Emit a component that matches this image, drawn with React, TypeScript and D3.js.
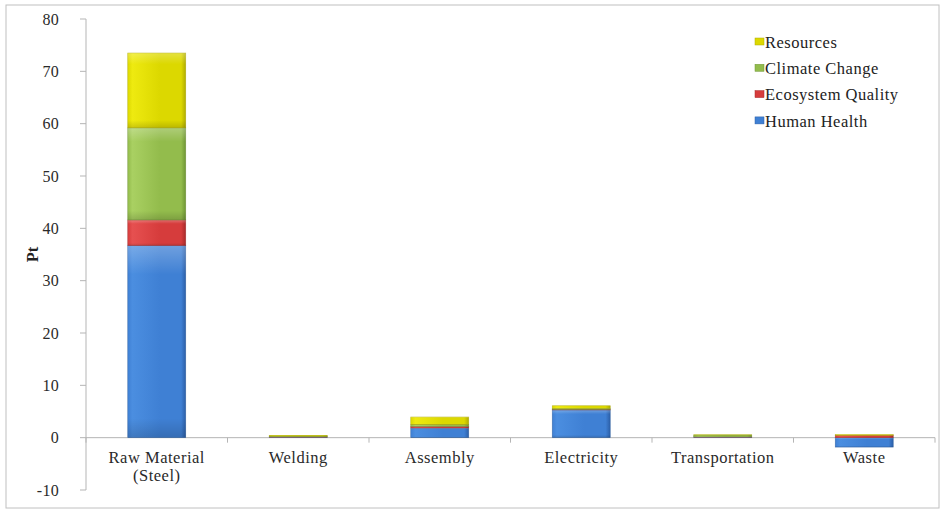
import React from "react";
import * as d3 from "d3";

const categories = ["Raw Material\n(Steel)", "Welding", "Assembly", "Electricity", "Transportation", "Waste"];
const seriesNames = ["Human Health", "Ecosystem Quality", "Climate Change", "Resources"];
const humanHealth = [36.7, 0.1, 1.85, 5.3, 0.1, -1.8];
const ecosystemQuality = [4.9, 0.05, 0.3, 0.1, 0.05, 0.45];
const climateChange = [17.6, 0.15, 0.35, 0.2, 0.35, 0.0];
const resources = [14.3, 0.15, 1.45, 0.5, 0.05, 0.15];
const yTicks = [-10, 0, 10, 20, 30, 40, 50, 60, 70, 80];

const W = 945;
const H = 510;
const FONT = "'Liberation Serif', 'Times New Roman', serif";

const colors = [
  { l: "#4b8ee0", m: "#3f80d4", d: "#2c5fa8", s: "#2a5a9a" },
  { l: "#e65050", m: "#d63c3c", d: "#a82a2a", s: "#9a2a2a" },
  { l: "#a9d062", m: "#93bc4c", d: "#6f9634", s: "#6a8a30" },
  { l: "#eeea10", m: "#dcd800", d: "#b0ac00", s: "#a8a400" },
];

export default function App() {
  const keys = seriesNames;
  const table = categories.map((c, i) => ({
    cat: c,
    "Human Health": humanHealth[i],
    "Ecosystem Quality": ecosystemQuality[i],
    "Climate Change": climateChange[i],
    Resources: resources[i],
  }));
  const stacked = d3.stack<any>().keys(keys).offset(d3.stackOffsetDiverging)(table);

  const x = d3.scaleBand<string>().domain(categories).range([86, 935]).paddingInner(0.59).paddingOuter(0.295);
  const y = d3.scaleLinear().domain([-10, 80]).range([490, 19]);
  const step = x.step();

  return (
    <svg width={W} height={H} style={{ position: "absolute", left: 0, top: 0, background: "#fff" }} fontFamily={FONT}>
      <defs>
        {colors.map((c, i) => (
          <linearGradient key={i} id={`g${i}`} x1="0" x2="1" y1="0" y2="0">
            <stop offset="0" stopColor={c.m} />
            <stop offset="0.08" stopColor={c.l} />
            <stop offset="0.55" stopColor={c.m} />
            <stop offset="0.92" stopColor={c.m} />
            <stop offset="1" stopColor={c.d} />
          </linearGradient>
        ))}
        <linearGradient id="gv" x1="0" x2="0" y1="0" y2="1">
          <stop offset="0" stopColor="#fff" stopOpacity="0.25" />
          <stop offset="0.15" stopColor="#fff" stopOpacity="0" />
          <stop offset="0.9" stopColor="#000" stopOpacity="0" />
          <stop offset="1" stopColor="#000" stopOpacity="0.15" />
        </linearGradient>
      </defs>
      <rect x={6} y={5} width={933} height={503} fill="#fff" stroke="#c0c0c0" strokeWidth={1} />

      {/* Y axis */}
      <line x1={86} x2={86} y1={y(80)} y2={y(-10)} stroke="#b5b5b5" strokeWidth={1} />
      {yTicks.map((t) => (
        <g key={t}>
          <line x1={80} x2={86} y1={y(t)} y2={y(t)} stroke="#b5b5b5" />
          <text x={59} y={y(t)} dy="0.35em" textAnchor="end" fontSize={16} fill="#2a2a2a" letterSpacing={0.3}>
            {t}
          </text>
        </g>
      ))}
      <text
        transform={`translate(38,${y(35)}) rotate(-90)`}
        textAnchor="middle"
        fontSize={16.5}
        fontWeight="bold"
        fill="#222"
      >
        Pt
      </text>

      {/* X axis */}
      <line x1={86} x2={935} y1={y(0)} y2={y(0)} stroke="#b5b5b5" />
      {d3.range(categories.length + 1).map((k) => (
        <line key={k} x1={86 + k * step} x2={86 + k * step} y1={y(0)} y2={y(0) + 5} stroke="#b5b5b5" />
      ))}
      {categories.map((c) => (
        <text key={c} x={(x(c) || 0) + x.bandwidth() / 2} y={463} textAnchor="middle" fontSize={16.5} fill="#2a2a2a" letterSpacing={0.5}>
          {c.split("\n").map((ln, j) => (
            <tspan key={j} x={(x(c) || 0) + x.bandwidth() / 2} dy={j === 0 ? 0 : 18}>
              {ln}
            </tspan>
          ))}
        </text>
      ))}

      {/* Bars */}
      {stacked.map((s, si) => (
        <g key={s.key}>
          {s.map((d, i) => {
            const y0 = y(d[0]);
            const y1 = y(d[1]);
            const top = Math.min(y0, y1);
            const h = Math.abs(y0 - y1);
            if (h < 0.01) return null;
            const bx = x(categories[i]) || 0;
            return (
              <g key={i}>
                <rect x={bx} y={top} width={x.bandwidth()} height={h} fill={`url(#g${si})`} stroke={colors[si].s} strokeWidth={0.6} strokeOpacity={0.7} />
                {h > 4 && <rect x={bx} y={top} width={x.bandwidth()} height={h} fill="url(#gv)" />}
              </g>
            );
          })}
        </g>
      ))}

      {/* Legend */}
      {seriesNames
        .slice()
        .reverse()
        .map((n, k) => {
          const si = seriesNames.indexOf(n);
          const ly = 42 + k * 26.3;
          return (
            <g key={n}>
              <rect x={755} y={ly - 4} width={9} height={7} fill={colors[si].m} stroke={colors[si].d} strokeWidth={0.5} />
              <text x={765} y={ly} dy="0.35em" fontSize={16.5} fill="#222" letterSpacing={0.5}>
                {n}
              </text>
            </g>
          );
        })}
    </svg>
  );
}
